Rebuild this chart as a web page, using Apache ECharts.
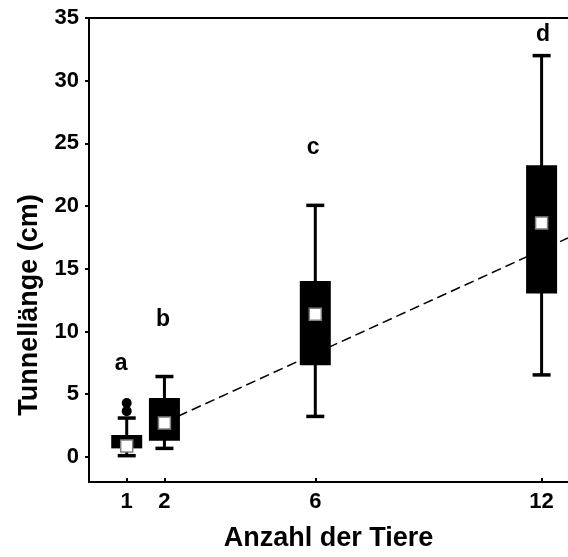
<!DOCTYPE html>
<html><head><meta charset="utf-8">
<script src="https://cdn.jsdelivr.net/npm/echarts@6/dist/echarts.min.js"></script>
<style>html,body{margin:0;padding:0;background:#fff}#c{width:568px;height:557px}</style>
</head><body><div id="c"></div>
<script>
// ---- data ----
const groups = [1, 2, 6, 12];
const whiskerLow = [0.1, 0.68, 3.23, 6.54];
const boxLow = [0.68, 1.29, 7.31, 13.04];
const boxHigh = [1.75, 4.69, 14.02, 23.25];
const whiskerHigh = [3.1, 6.41, 20.06, 32.0];
const centers = [0.87, 2.70, 11.37, 18.66];
const outlierX = [1, 1];
const outlierY = [4.3, 3.65];
const letters = ['a', 'b', 'c', 'd'];
const letterX = [0.85, 1.96, 5.94, 12.04];
const letterY = [7.47, 10.98, 24.65, 33.68];
const trendX = [2, 12.7];
const trendY = [2.75, 17.4625];
const yTicks = [0, 5, 10, 15, 20, 25, 30, 35];
const xTicks = [1, 2, 6, 12];

const FONT = '"Liberation Sans", Arial, sans-serif';
const chart = echarts.init(document.getElementById('c'), null, {renderer: 'canvas'});

const boxData = groups.map((g, i) => [g, whiskerLow[i], boxLow[i], boxHigh[i], whiskerHigh[i], centers[i]]);

function renderBox(params, api) {
  const x = api.value(0);
  const pLow = api.coord([x, api.value(1)]);
  const pQ1 = api.coord([x, api.value(2)]);
  const pQ3 = api.coord([x, api.value(3)]);
  const pHigh = api.coord([x, api.value(4)]);
  const pC = api.coord([x, api.value(5)]);
  const bw = 31, cw = 18, sq = 12;
  const ls = {stroke: '#000', lineWidth: 3};
  return {type: 'group', children: [
    {type: 'line', shape: {x1: pLow[0], y1: pLow[1], x2: pHigh[0], y2: pHigh[1]}, style: ls},
    {type: 'line', shape: {x1: pLow[0] - cw / 2, y1: pLow[1], x2: pLow[0] + cw / 2, y2: pLow[1]}, style: {stroke: '#000', lineWidth: 3.5}},
    {type: 'line', shape: {x1: pHigh[0] - cw / 2, y1: pHigh[1], x2: pHigh[0] + cw / 2, y2: pHigh[1]}, style: {stroke: '#000', lineWidth: 3.5}},
    {type: 'rect', shape: {x: pQ3[0] - bw / 2, y: pQ3[1], width: bw, height: pQ1[1] - pQ3[1]}, style: {fill: '#000'}},
    {type: 'rect', shape: {x: pC[0] - sq / 2, y: pC[1] - sq / 2, width: sq, height: sq}, style: {fill: '#fff', stroke: '#808080', lineWidth: 1.5}}
  ]};
}

chart.setOption({
  animation: false,
  backgroundColor: '#fff',
  grid: {left: 89, top: 18, right: 0, bottom: 74, show: false, containLabel: false},
  xAxis: [{
    type: 'value', min: 0, max: 12.7,
    axisLine: {onZero: false, lineStyle: {color: '#000', width: 2}},
    axisTick: {show: true, inside: true, length: 4, customValues: xTicks, lineStyle: {color: '#000', width: 2}},
    axisLabel: {customValues: xTicks, color: '#000', fontSize: 22, fontWeight: 'bold', fontFamily: FONT, margin: 9},
    splitLine: {show: false},
    name: 'Anzahl der Tiere', nameLocation: 'middle', nameGap: 43,
    nameTextStyle: {color: '#000', fontSize: 27, fontWeight: 'bold', fontFamily: FONT}
  }, {
    type: 'value', position: 'top', min: 0, max: 12.7,
    axisLine: {show: true, onZero: false, lineStyle: {color: '#000', width: 2}},
    axisTick: {show: false}, axisLabel: {show: false}, splitLine: {show: false}
  }],
  yAxis: {
    type: 'value', min: -2, max: 35,
    axisLine: {show: true, onZero: false, lineStyle: {color: '#000', width: 2}},
    axisTick: {show: true, inside: false, length: 4, customValues: yTicks, lineStyle: {color: '#000', width: 2}},
    axisLabel: {customValues: yTicks, color: '#000', fontSize: 22, fontWeight: 'bold', fontFamily: FONT, margin: 10},
    splitLine: {show: false}
  },
  graphic: [{
    type: 'text', x: 30, y: 305, rotation: Math.PI / 2,
    style: {text: 'Tunnellänge (cm)', fill: '#000', font: 'bold 27px ' + FONT, align: 'center', verticalAlign: 'middle'}
  }],
  series: [
    {
      type: 'line', data: trendX.map((x, i) => [x, trendY[i]]), symbol: 'none', z: 1,
      lineStyle: {color: '#000', width: 1.5, type: [10, 5]}
    },
    {
      type: 'custom', renderItem: renderBox, data: boxData, z: 3,
      encode: {x: 0, y: [1, 2, 3, 4, 5]}
    },
    {
      type: 'scatter', data: outlierX.map((x, i) => [x, outlierY[i]]), symbolSize: 10, z: 4,
      itemStyle: {color: '#000', opacity: 1}
    },
    {
      type: 'scatter', data: letterX.map((x, i) => [x, letterY[i]]), symbolSize: 0, z: 5,
      itemStyle: {opacity: 1},
      label: {show: true, position: 'inside', formatter: p => letters[p.dataIndex], color: '#000', opacity: 1, fontSize: 23, fontWeight: 'bold', fontFamily: FONT}
    }
  ]
});
</script>
</body></html>
